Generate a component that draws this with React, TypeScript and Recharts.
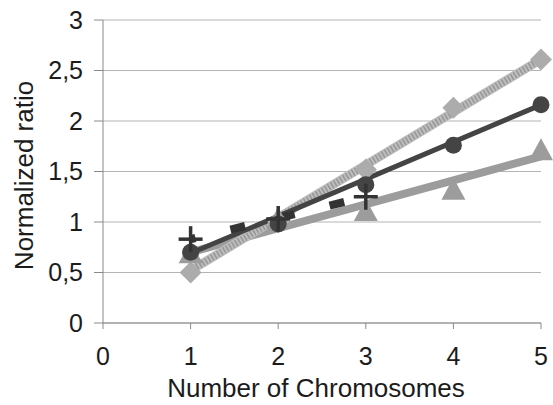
import React from "react";
import {
  ComposedChart,
  Line,
  Scatter,
  XAxis,
  YAxis,
  CartesianGrid,
  Label,
} from "recharts";

const X_TICKS = [0, 1, 2, 3, 4, 5];
const Y_TICKS = [0, 0.5, 1, 1.5, 2, 2.5, 3];

// measured points, x = number of chromosomes
const CHROMOSOMES = [1, 2, 3, 4, 5];
const DIAMOND_Y = [0.5, 1.0, 1.52, 2.13, 2.61];
const CIRCLE_Y = [0.7, 0.98, 1.37, 1.76, 2.16];
const TRIANGLE_Y = [0.68, 1.02, 1.1, 1.31, 1.7];
const PLUS_X = [1, 2, 3];
const PLUS_Y = [0.83, 1.03, 1.25];

// fitted trend lines, end points
const DIAMOND_FIT_X = [1, 5];
const DIAMOND_FIT_Y = [0.52, 2.61];
const CIRCLE_FIT_X = [1, 5];
const CIRCLE_FIT_Y = [0.69, 2.16];
const TRIANGLE_FIT_X = [1, 5];
const TRIANGLE_FIT_Y = [0.7, 1.65];
const PLUS_FIT_X = [1, 3];
const PLUS_FIT_Y = [0.83, 1.25];

const pts = (xs: number[], ys: number[]) => xs.map((x, i) => ({ x, y: ys[i] }));

const FONT = "'Liberation Sans', Arial, sans-serif";
const TEXT = "#1c1c1c";

// eslint-disable-next-line @typescript-eslint/no-explicit-any
const Diamond = ({ cx, cy }: any) => (
  <path d={`M${cx},${cy - 11}L${cx + 11},${cy}L${cx},${cy + 11}L${cx - 11},${cy}Z`} fill="#acacac" />
);
// eslint-disable-next-line @typescript-eslint/no-explicit-any
const Dot = ({ cx, cy }: any) => <circle cx={cx} cy={cy} r={8.5} fill="#444" />;
// eslint-disable-next-line @typescript-eslint/no-explicit-any
const Tri = ({ cx, cy }: any) => (
  <path d={`M${cx},${cy - 13}L${cx + 12},${cy + 9}L${cx - 12},${cy + 9}Z`} fill="#9c9c9c" />
);
// eslint-disable-next-line @typescript-eslint/no-explicit-any
const Plus = ({ cx, cy }: any) => (
  <g stroke="#333" strokeWidth={3.5}>
    <line x1={cx - 12} y1={cy} x2={cx + 12} y2={cy} />
    <line x1={cx} y1={cy - 13} x2={cx} y2={cy + 13} />
  </g>
);

export default function App() {
  return (
    <div style={{ position: "absolute", left: 0, top: 0, width: 553, height: 405, background: "#fff" }}>
      <ComposedChart width={553} height={405} margin={{ top: 20, right: 12, left: 0, bottom: 0 }}>
        <CartesianGrid vertical={false} stroke="#b4b4b4" />
        <XAxis
          type="number"
          dataKey="x"
          domain={[0, 5]}
          ticks={X_TICKS}
          height={82}
          stroke="#8a8a8a"
          tickSize={6}
          tickMargin={18}
          tick={{ fill: TEXT, fontSize: 25, fontFamily: FONT }}
        >
          <Label
            // eslint-disable-next-line @typescript-eslint/no-explicit-any
            content={({ viewBox }: any) => (
              <text
                x={viewBox.x + viewBox.width / 2 - 6}
                y={viewBox.y + viewBox.height - 8}
                textAnchor="middle"
                fill={TEXT}
                fontSize={26}
                fontFamily={FONT}
              >
                Number of Chromosomes
              </text>
            )}
          />
        </XAxis>
        <YAxis
          type="number"
          dataKey="y"
          domain={[0, 3]}
          ticks={Y_TICKS}
          width={103}
          stroke="#8a8a8a"
          tickSize={9}
          tickMargin={11}
          tickFormatter={(v) => String(v).replace(".", ",")}
          tick={{ fill: TEXT, fontSize: 25, fontFamily: FONT }}
        >
          <Label
            // eslint-disable-next-line @typescript-eslint/no-explicit-any
            content={({ viewBox }: any) => {
              const cy = viewBox.y + viewBox.height / 2 + 4;
              return (
                <text
                  x={33}
                  y={cy}
                  transform={`rotate(-90 33 ${cy})`}
                  textAnchor="middle"
                  fill={TEXT}
                  fontSize={26}
                  fontFamily={FONT}
                >
                  Normalized ratio
                </text>
              );
            }}
          />
        </YAxis>

        <Line data={pts(TRIANGLE_FIT_X, TRIANGLE_FIT_Y)} dataKey="y" stroke="#9c9c9c" strokeWidth={8} dot={false} isAnimationActive={false} />
        <Line data={pts(DIAMOND_FIT_X, DIAMOND_FIT_Y)} dataKey="y" stroke="#bdbdbd" strokeWidth={9} dot={false} isAnimationActive={false} />
        <Line data={pts(DIAMOND_FIT_X, DIAMOND_FIT_Y)} dataKey="y" stroke="#979797" strokeWidth={7} strokeDasharray="1.5 2" dot={false} isAnimationActive={false} />
        <Line data={pts(CIRCLE_FIT_X, CIRCLE_FIT_Y)} dataKey="y" stroke="#444" strokeWidth={5} dot={false} isAnimationActive={false} />
        <Line data={pts(PLUS_FIT_X, PLUS_FIT_Y)} dataKey="y" stroke="#333" strokeWidth={8} strokeDasharray="15 36" strokeDashoffset={10} dot={false} isAnimationActive={false} />

        <Scatter data={pts(CHROMOSOMES, DIAMOND_Y)} shape={Diamond} isAnimationActive={false} />
        <Scatter data={pts(CHROMOSOMES, TRIANGLE_Y)} shape={Tri} isAnimationActive={false} />
        <Scatter data={pts(CHROMOSOMES, CIRCLE_Y)} shape={Dot} isAnimationActive={false} />
        <Scatter data={pts(PLUS_X, PLUS_Y)} shape={Plus} isAnimationActive={false} />
      </ComposedChart>
    </div>
  );
}
